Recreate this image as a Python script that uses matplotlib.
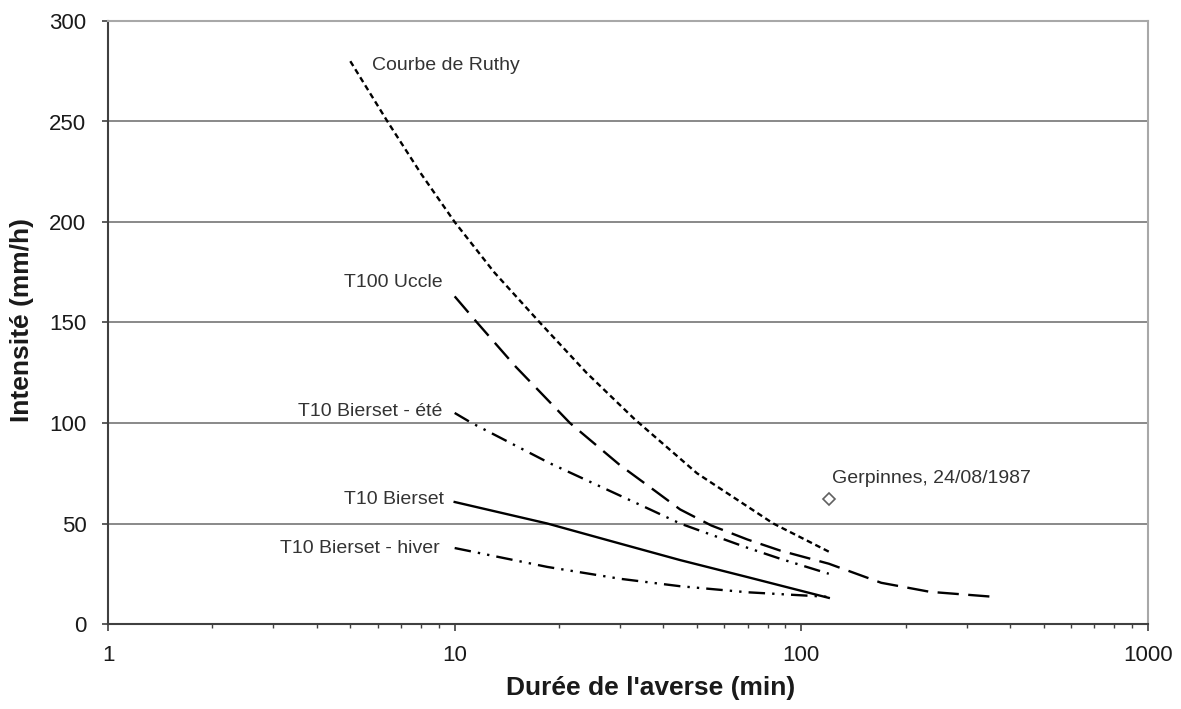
import matplotlib
matplotlib.use("Agg")
import matplotlib.pyplot as plt
from matplotlib.ticker import LogLocator, NullFormatter, FixedLocator

plt.rcParams['font.family'] = ['Liberation Sans', 'DejaVu Sans']

# ---- data ----
ruthy_t = [5, 6.4, 8, 10, 13, 17.6, 24, 33, 50, 83, 120]
ruthy_i = [280, 250, 224, 200, 175, 150, 125, 102, 75, 50, 36]

uccle_t = [10, 11.6, 15, 21.5, 30, 38, 44.7, 55, 70, 87, 120, 170, 235, 360]
uccle_i = [163, 150, 128, 100, 79, 66, 57, 49, 42, 36.5, 30, 20.5, 16, 13.5]

ete_t = [10, 11.2, 18.8, 36.6, 44.7, 69.7, 86.8, 120]
ete_i = [105, 100, 80, 57, 50, 38, 32.5, 25]

bierset_t = [10, 18.5, 30, 44.7, 69.7, 120]
bierset_i = [60.7, 50, 40, 31.8, 23.4, 13]

hiver_t = [10, 18.5, 30, 44.7, 69.7, 120]
hiver_i = [37.8, 28.4, 22.5, 18.8, 15.8, 13.5]

gerp_t = [120]
gerp_i = [62]

y_ticks = [0, 50, 100, 150, 200, 250, 300]
x_ticks = [1, 10, 100, 1000]
x_ticklabels = ["1", "10", "100", "1000"]

labels = {
    "ruthy": "Courbe de Ruthy",
    "uccle": "T100 Uccle",
    "ete": "T10 Bierset - été",
    "bierset": "T10 Bierset",
    "hiver": "T10 Bierset - hiver",
    "gerp": "Gerpinnes, 24/08/1987",
}

# ---- figure ----
fig = plt.figure(figsize=(11.81, 7.09), dpi=100)
ax = fig.add_axes([108 / 1181, (709 - 624) / 709, (1148 - 108) / 1181, (624 - 21) / 709])

ax.set_xscale('log')
ax.set_xlim(1, 1000)
ax.set_ylim(0, 300)

# gridlines
for yv in y_ticks[1:]:
    ax.axhline(yv, color='#808080', lw=1.3, zorder=1)

lw = 1.7
ax.plot(ruthy_t, ruthy_i, color='black', lw=lw, dashes=(2.4, 1.6), zorder=3)
ax.plot(uccle_t, uccle_i, color='black', lw=lw, dashes=(9, 4), zorder=3)
ax.plot(ete_t, ete_i, color='black', lw=lw, dashes=(7, 3, 1, 3, 1, 3), zorder=3)
ax.plot(bierset_t, bierset_i, color='black', lw=lw, zorder=3)
ax.plot(hiver_t, hiver_i, color='black', lw=lw, dashes=(7, 3, 1, 3, 1, 3), zorder=3)
ax.plot(gerp_t, gerp_i, linestyle='none', marker='D', ms=6.5, mfc='white',
        mec='#606060', mew=1.2, zorder=4)

txt_kw = dict(fontsize=14, color='#333333')
ax.text(5.77, 278, labels["ruthy"], ha='left', va='center', **txt_kw)
ax.text(9.25, 170, labels["uccle"], ha='right', va='center', **txt_kw)
ax.text(9.2, 105.5, labels["ete"], ha='right', va='center', **txt_kw)
ax.text(9.3, 62, labels["bierset"], ha='right', va='center', **txt_kw)
ax.text(9.04, 37.8, labels["hiver"], ha='right', va='center', **txt_kw)
ax.text(122.5, 72.6, labels["gerp"], ha='left', va='center', **txt_kw)

# axes styling
ax.spines['left'].set_color('#404040')
ax.spines['left'].set_linewidth(1.5)
ax.spines['bottom'].set_color('#404040')
ax.spines['bottom'].set_linewidth(1.5)
ax.spines['right'].set_color('#a8a8a8')
ax.spines['right'].set_linewidth(1.5)
ax.spines['top'].set_color('#a8a8a8')
ax.spines['top'].set_linewidth(1.5)

ax.yaxis.set_major_locator(FixedLocator(y_ticks))
ax.xaxis.set_major_locator(FixedLocator(x_ticks))
ax.set_xticklabels(x_ticklabels)
ax.xaxis.set_minor_locator(LogLocator(base=10, subs=range(2, 10)))
ax.xaxis.set_minor_formatter(NullFormatter())

ax.tick_params(axis='y', which='major', direction='out', length=4.5, width=1.2,
               color='#404040', pad=11, labelsize=16, labelcolor='#1a1a1a')
ax.tick_params(axis='x', which='major', direction='out', length=5, width=1.2,
               color='#404040', pad=10, labelsize=16, labelcolor='#1a1a1a')
ax.tick_params(axis='x', which='minor', direction='out', length=3, width=1.0,
               color='#404040')

fig.text(651 / 1181, 1 - 688 / 709, "Durée de l'averse (min)",
         ha='center', va='center', fontsize=19, fontweight='bold', color='#1a1a1a')
fig.text(22 / 1181, 1 - 320 / 709, "Intensité (mm/h)", rotation=90,
         ha='center', va='center', fontsize=19, fontweight='bold', color='#1a1a1a')

fig.savefig("out.png", dpi=100)
